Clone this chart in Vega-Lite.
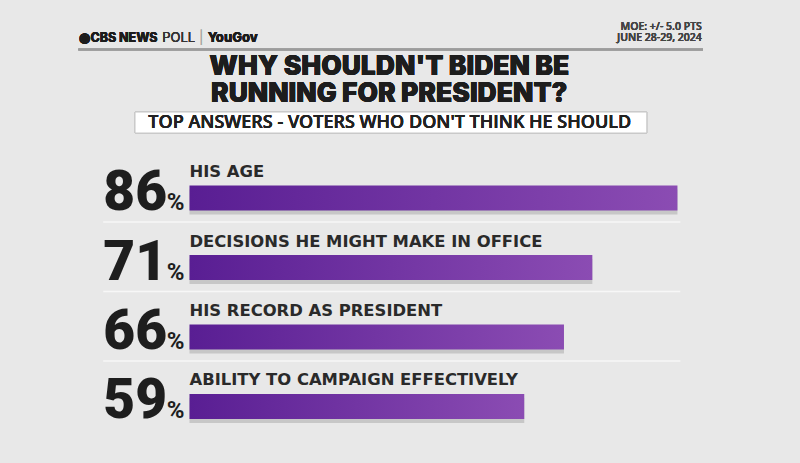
{
  "$schema": "https://vega.github.io/schema/vega-lite/v6.json",
  "width": 800,
  "height": 463,
  "autosize": {"type": "fit", "contains": "padding"},
  "padding": 0,
  "background": "#e8e8e8",
  "config": {"view": {"stroke": null}},
  "data": {
    "values": [
      {"rank": 1, "answer": "HIS AGE", "pct": 86, "num": "86"},
      {"rank": 2, "answer": "DECISIONS HE MIGHT MAKE IN OFFICE", "pct": 71, "num": "71"},
      {"rank": 3, "answer": "HIS RECORD AS PRESIDENT", "pct": 66, "num": "66"},
      {"rank": 4, "answer": "ABILITY TO CAMPAIGN EFFECTIVELY", "pct": 59, "num": "59"}
    ]
  },
  "layer": [
    {
      "mark": {"type": "bar", "height": 25, "yOffset": 4, "color": "#7a7a7a", "opacity": 0.3},
      "encoding": {
        "x": {"field": "pct", "type": "quantitative", "axis": null,
              "scale": {"domain": [-33.4, 107.6], "nice": false, "zero": false, "padding": 0}},
        "x2": {"datum": 0},
        "y": {"field": "rank", "type": "quantitative", "axis": null,
              "scale": {"domain": [-1.849, 4.813], "reverse": true, "nice": false, "zero": false, "padding": 0}}
      }
    },
    {
      "mark": {"type": "bar", "height": 25,
               "color": {"gradient": "linear", "x1": 0, "x2": 1, "y1": 0, "y2": 0,
                         "stops": [{"offset": 0, "color": "#591e93"}, {"offset": 1, "color": "#8b4cb3"}]}},
      "encoding": {
        "x": {"field": "pct", "type": "quantitative"},
        "x2": {"datum": 0},
        "y": {"field": "rank", "type": "quantitative"}
      }
    },
    {
      "transform": [{"filter": "datum.rank < 4"}],
      "mark": {"type": "rule", "stroke": "#f7f7f7", "strokeWidth": 1.5, "yOffset": 24},
      "encoding": {
        "x": {"datum": -15.2, "type": "quantitative"},
        "x2": {"datum": 86.5},
        "y": {"field": "rank", "type": "quantitative"}
      }
    },
    {
      "mark": {"type": "text", "align": "left", "baseline": "alphabetic", "dy": -21,
               "font": "DejaVu Sans", "fontWeight": "bold", "fontSize": 16.4, "fill": "#2a2a2a"},
      "encoding": {
        "x": {"datum": 0, "type": "quantitative"},
        "y": {"field": "rank", "type": "quantitative"},
        "text": {"field": "answer"}
      }
    },
    {
      "mark": {"type": "text", "align": "left", "baseline": "alphabetic", "dy": 12,
               "font": "Roboto", "fontWeight": 900, "fontSize": 55, "fill": "#1e1e1e"},
      "encoding": {
        "x": {"datum": -15.2, "type": "quantitative"},
        "y": {"field": "rank", "type": "quantitative"},
        "text": {"field": "num"}
      }
    },
    {
      "mark": {"type": "text", "align": "left", "baseline": "alphabetic", "dy": 12,
               "font": "Roboto", "fontWeight": 700, "fontSize": 24, "fill": "#1e1e1e"},
      "encoding": {
        "x": {"datum": -4.0, "type": "quantitative"},
        "y": {"field": "rank", "type": "quantitative"},
        "text": {"value": "%"}
      }
    },
    {
      "mark": {"type": "rule", "stroke": "#9c9c9c", "strokeWidth": 2},
      "encoding": {
        "x": {"datum": -19.6, "type": "quantitative"},
        "x2": {"datum": 90.5},
        "y": {"datum": -1.135, "type": "quantitative"}
      }
    },
    {
      "mark": {"type": "text", "align": "left", "baseline": "alphabetic",
               "font": "Inter", "fontWeight": 800, "fontSize": 12.5, "fill": "#1c1c1c"},
      "encoding": {
        "x": {"datum": -19.4, "type": "quantitative"},
        "y": {"datum": -1.245, "type": "quantitative"},
        "text": {"value": "◉CBS NEWS"}
      }
    },
    {
      "mark": {"type": "text", "align": "left", "baseline": "alphabetic",
               "font": "Inter", "fontWeight": 400, "fontSize": 13, "fill": "#333333"},
      "encoding": {
        "x": {"datum": -4.8, "type": "quantitative"},
        "y": {"datum": -1.245, "type": "quantitative"},
        "text": {"value": "POLL"}
      }
    },
    {
      "mark": {"type": "text", "align": "left", "baseline": "alphabetic",
               "font": "Inter", "fontWeight": 300, "fontSize": 13, "fill": "#aaaaaa"},
      "encoding": {
        "x": {"datum": 1.7, "type": "quantitative"},
        "y": {"datum": -1.245, "type": "quantitative"},
        "text": {"value": "|"}
      }
    },
    {
      "mark": {"type": "text", "align": "left", "baseline": "alphabetic",
               "font": "Inter", "fontWeight": 800, "fontSize": 13, "fill": "#1c1c1c"},
      "encoding": {
        "x": {"datum": 3.2, "type": "quantitative"},
        "y": {"datum": -1.245, "type": "quantitative"},
        "text": {"value": "YouGov"}
      }
    },
    {
      "mark": {"type": "text", "align": "right", "baseline": "alphabetic",
               "font": "Open Sans", "fontWeight": 600, "fontSize": 10.5, "fill": "#444444", "lineHeight": 11},
      "encoding": {
        "x": {"datum": 90.3, "type": "quantitative"},
        "y": {"datum": -1.417, "type": "quantitative"},
        "text": {"value": ["MOE: +/- 5.0 PTS", "JUNE 28-29, 2024"]}
      }
    },
    {
      "mark": {"type": "text", "align": "center", "baseline": "alphabetic",
               "font": "Inter", "fontWeight": 900, "fontSize": 26.5, "fill": "#1d1d1d", "lineHeight": 26.5},
      "encoding": {
        "x": {"datum": 35.2, "type": "quantitative"},
        "y": {"datum": -0.765, "type": "quantitative"},
        "text": {"value": ["WHY SHOULDN'T BIDEN BE", "RUNNING FOR PRESIDENT?"]}
      }
    },
    {
      "mark": {"type": "rect", "fill": "#ffffff", "stroke": "#c8c8c8", "strokeWidth": 1},
      "encoding": {
        "x": {"datum": -9.6, "type": "quantitative"},
        "x2": {"datum": 80.6},
        "y": {"datum": -0.237, "type": "quantitative"},
        "y2": {"datum": 0.065}
      }
    },
    {
      "mark": {"type": "text", "align": "center", "baseline": "alphabetic",
               "font": "Open Sans", "fontWeight": 600, "fontSize": 18, "fill": "#222222"},
      "encoding": {
        "x": {"datum": 35.3, "type": "quantitative"},
        "y": {"datum": -0.007, "type": "quantitative"},
        "text": {"value": "TOP ANSWERS - VOTERS WHO DON'T THINK HE SHOULD"}
      }
    }
  ]
}
